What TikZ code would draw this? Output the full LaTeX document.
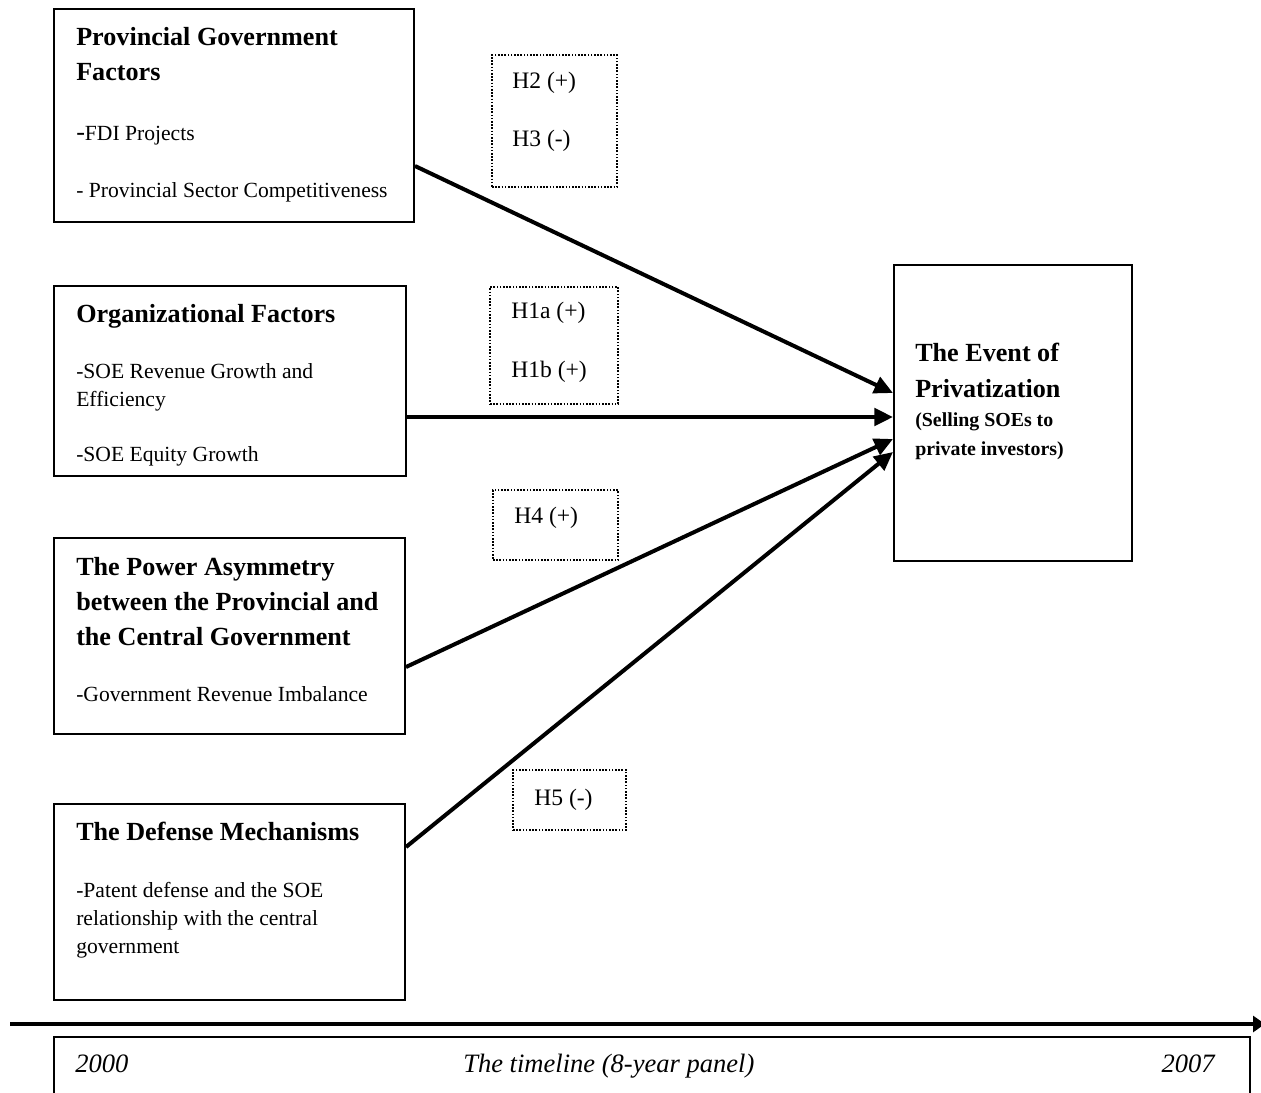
\documentclass[tikz,border=0pt]{standalone}
\usepackage{fontspec}
\setmainfont{Liberation Serif}
\usetikzlibrary{arrows.meta,fit}
\begin{document}
\begin{tikzpicture}[x=0.75pt,y=-0.75pt,
  box/.style={draw,line width=1.5pt,inner sep=0pt},
  dotbox/.style={draw,line width=1.2pt,dash pattern=on 1.2pt off 1.2pt,inner sep=0pt},
  head/.style={anchor=base west,inner sep=0pt,font=\fontsize{19.6pt}{23pt}\selectfont\bfseries},
  sub/.style={anchor=base west,inner sep=0pt,font=\fontsize{14.9pt}{18pt}\selectfont\bfseries},
  txt/.style={anchor=base west,inner sep=0pt,font=\fontsize{16.2pt}{19pt}\selectfont},
  hyp/.style={anchor=base west,inner sep=0pt,font=\fontsize{17.7pt}{21pt}\selectfont},
  itx/.style={anchor=base west,inner sep=0pt,font=\fontsize{19.9pt}{23pt}\selectfont\itshape},
  conn/.style={line width=3pt,-{Triangle[length=14pt,width=13pt]}}]
\useasboundingbox (0,0) rectangle (1261,1093);

% boxes
\node[box,fit={(54,9) (414,222)}] (b1) {};
\node[box,fit={(54,286) (406,476)}] (b2) {};
\node[box,fit={(54,538) (405,734)}] (b3) {};
\node[box,fit={(54,804) (405,1000)}] (b4) {};
\node[box,fit={(894,265) (1132,561)}] (ev) {};

% dotted hypothesis boxes
\node[dotbox,fit={(492,55) (617,187)}] (d1) {};
\node[dotbox,fit={(490,287) (618,404)}] (d2) {};
\node[dotbox,fit={(493,490) (618,560)}] (d3) {};
\node[dotbox,fit={(513,770) (626,830)}] (d4) {};

% box 1 text
\node[head] (t11) at (76,45) {Provincial Government};
\node[head] (t12) at (76,80) {Factors};
\node[txt] (t13) at (76,140) {{\fontsize{19.6pt}{19pt}\selectfont -}FDI Projects};
\node[txt] (t14) at (76,197) {- Provincial Sector Competitiveness};

% box 2 text
\node[head] (t21) at (76,322) {Organizational Factors};
\node[txt] (t22) at (76,378) {-SOE Revenue Growth and};
\node[txt] (t23) at (76,406) {Efficiency};
\node[txt] (t24) at (76,461) {-SOE Equity Growth};

% box 3 text
\node[head] (t31) at (76,575) {The Power Asymmetry};
\node[head] (t32) at (76,610) {between the Provincial and};
\node[head] (t33) at (76,645) {the Central Government};
\node[txt] (t34) at (76,701) {-Government Revenue Imbalance};

% box 4 text
\node[head] (t41) at (76,840) {The Defense Mechanisms};
\node[txt] (t42) at (76,897) {-Patent defense and the SOE};
\node[txt] (t43) at (76,925) {relationship with the central};
\node[txt] (t44) at (76,953) {government};

% event box text
\node[head] (e1) at (915,361) {The Event of};
\node[head] (e2) at (915,397) {Privatization};
\node[sub] (e3) at (915,426) {(Selling SOEs to};
\node[sub] (e4) at (915,455) {private investors)};

% hypothesis labels
\node[hyp] (h2) at (512,88) {H2 (+)};
\node[hyp] (h3) at (512,146) {H3 (-)};
\node[hyp] (h1a) at (511,318) {H1a (+)};
\node[hyp] (h1b) at (511,377) {H1b (+)};
\node[hyp] (h4) at (514,523) {H4 (+)};
\node[hyp] (h5) at (534,805) {H5 (-)};

% connectors
\coordinate (s1) at (b1.east |- 0,166);
\coordinate (s2) at (b2.east |- 0,417);
\coordinate (s3) at (b3.east |- 0,667);
\coordinate (s4) at (b4.east |- 0,847);
\coordinate (a1) at (ev.west |- 0,393);
\coordinate (a2) at (ev.west |- 0,417);
\coordinate (a3) at (ev.west |- 0,439);
\coordinate (a4) at (ev.west |- 0,452);
\draw[conn] (s1) -- (a1);
\draw[conn] (s2) -- (a2);
\draw[conn] (s3) -- (a3);
\draw[conn] (s4) -- (a4);

% timeline
\coordinate (tl0) at (10,1024);
\coordinate (tl1) at (1265,1024);
\draw[line width=3pt,-{Triangle[length=9pt,width=12pt]}] (tl0) -- (tl1);
\draw[line width=1.5pt] (54,1100) -- (54,1037) -- (1250,1037) -- (1250,1100);
\node[itx] (y0) at (75,1072) {2000};
\node[itx] (tlab) at (463,1072) {The timeline (8-year panel)};
\node[itx,anchor=base east] (y1) at (1215,1072) {2007};
\end{tikzpicture}
\end{document}
